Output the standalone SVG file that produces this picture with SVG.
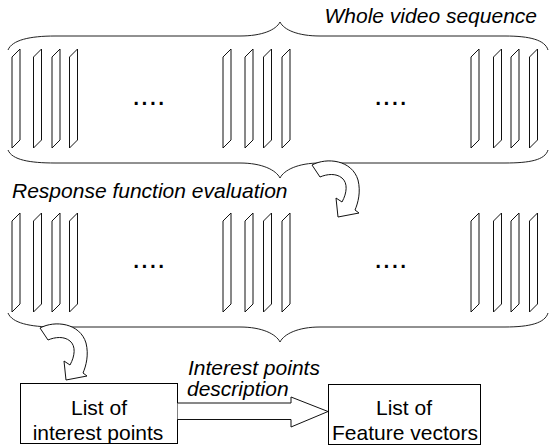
<svg xmlns="http://www.w3.org/2000/svg" xmlns:xlink="http://www.w3.org/1999/xlink" width="552" height="446" viewBox="0 0 552 446">
<style>
.ln{fill:none;stroke:#222;stroke-width:1}
.fr{fill:#fff;stroke:#111;stroke-width:1}
.box{fill:#fff;stroke:#000;stroke-width:1}
.arr{fill:#fff;stroke:#111;stroke-width:1;stroke-linejoin:miter}
.lbl{font-family:"Liberation Sans",Arial,sans-serif;font-size:21px;font-style:italic;fill:#000}
.txt{font-family:"Liberation Sans",Arial,sans-serif;font-size:21px;fill:#000;text-anchor:middle}
.dots{font-family:"Liberation Sans",Arial,sans-serif;font-size:30px;fill:#000}
</style>
<defs>
<polygon id="frame" class="fr" points="0,8 8,0 8,91 0,99"/>
<g id="frames">
<use xlink:href="#frame" x="12" y="0"/>
<use xlink:href="#frame" x="33.5" y="0"/>
<use xlink:href="#frame" x="52" y="0"/>
<use xlink:href="#frame" x="69.5" y="0"/>
<use xlink:href="#frame" x="223" y="0"/>
<use xlink:href="#frame" x="245" y="0"/>
<use xlink:href="#frame" x="263.5" y="0"/>
<use xlink:href="#frame" x="282" y="0"/>
<use xlink:href="#frame" x="471" y="0"/>
<use xlink:href="#frame" x="493.5" y="0"/>
<use xlink:href="#frame" x="511" y="0"/>
<use xlink:href="#frame" x="529.5" y="0"/>
</g>
<path id="curl" class="arr" d="M0,0 C15,-8 40,-5 46,15 C49,27 46,38 43,45 L47,48 L26,52 L24,33 L30,37 C35,28 36,18 30,13 C24,8 15,9 8,12 Z"/>
</defs>

<g id="sequence">
<path class="ln" d="M8,50 C12,40 30,36 55,36 L240,36 C262,36 276,30 280,22 C284,30 298,36 320,36 L505,36 C530,36 545,40 548,50"/>
<use xlink:href="#frames" x="0" y="49"/>
<text class="dots" x="132" y="104.5">....</text>
<text class="dots" x="374" y="104.5">....</text>
<path class="ln" d="M8,150 C12,160 30,163 55,163 L240,163 C262,163 276,170 280,178 C284,170 298,163 320,163 L505,163 C530,163 545,160 548,150"/>
<text class="lbl" x="537" y="23" text-anchor="end">Whole video sequence</text>
</g>

<g id="response">
<use xlink:href="#frames" x="0" y="213"/>
<text class="dots" x="132" y="267.5">....</text>
<text class="dots" x="374" y="267.5">....</text>
<path class="ln" d="M8,313 C12,323 30,327 55,327 L240,327 C262,327 276,334 280,342 C284,334 298,327 320,327 L505,327 C530,327 545,323 548,313"/>
<text class="lbl" x="12" y="198">Response function evaluation</text>
</g>

<g id="interest-points">
<rect class="box" x="20.5" y="383.5" width="157" height="60"/>
<text class="txt" x="99" y="415">List of</text>
<text class="txt" x="98" y="440">interest points</text>
</g>

<g id="feature-vectors">
<rect class="box" x="328.5" y="384.5" width="152" height="60"/>
<text class="txt" x="404" y="415">List of</text>
<text class="txt" x="405" y="440">Feature vectors</text>
</g>

<g id="connectors">
<use xlink:href="#curl" x="312" y="165"/>
<use xlink:href="#curl" x="40" y="328"/>
<path class="arr" d="M177.5,403 L291,403 L291,397 L328,411.5 L291,427 L291,419.5 L177.5,419.5"/>
<text class="lbl" x="188" y="375">Interest points</text>
<text class="lbl" x="187" y="396">description</text>
</g>
</svg>
